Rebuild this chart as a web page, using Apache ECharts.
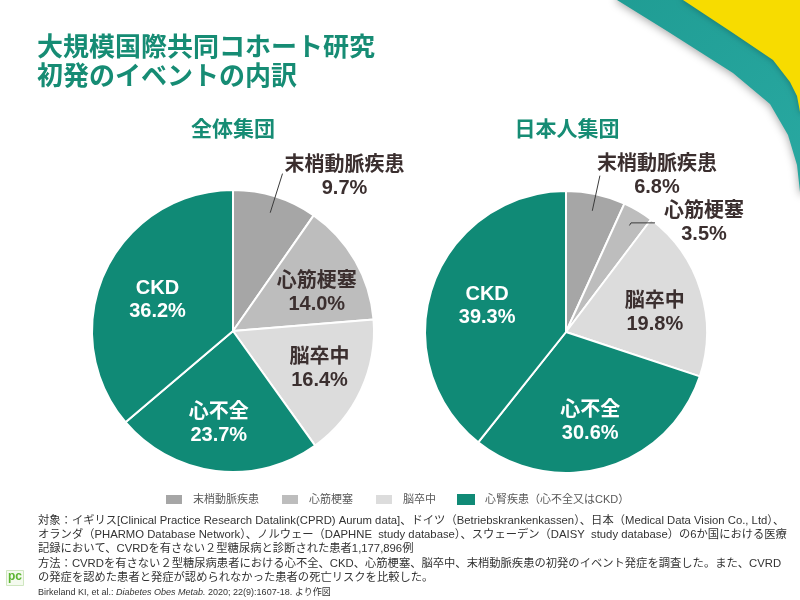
<!DOCTYPE html>
<html>
<head>
<meta charset="utf-8">
<script src="https://cdn.jsdelivr.net/npm/echarts@6/dist/echarts.min.js"></script>
<style>
html,body{margin:0;padding:0;background:#fff;}
#main{width:800px;height:600px;}
</style>
</head>
<body>
<div id="main"></div>
<script>
// ---- data ----
var categories = ['末梢動脈疾患', '心筋梗塞', '脳卒中', '心不全', 'CKD'];
var overallValues = [9.7, 14.0, 16.4, 23.7, 36.2];
var japanValues = [6.8, 3.5, 19.8, 30.6, 39.3];
var legendNames = ['末梢動脈疾患', '心筋梗塞', '脳卒中', '心腎疾患（心不全又はCKD）'];
var titleLines = ['大規模国際共同コホート研究', '初発のイベントの内訳'];
var groupTitles = ['全体集団', '日本人集団'];
var footnoteLines = [
  '対象：イギリス[Clinical Practice Research Datalink(CPRD) Aurum data]、ドイツ（Betriebskrankenkassen）、日本（Medical Data Vision Co., Ltd）、',
  'オランダ（PHARMO Database Network）、ノルウェー（DAPHNE  study database）、スウェーデン（DAISY  study database）の6か国における医療',
  '記録において、CVRDを有さない２型糖尿病と診断された患者1,177,896例',
  '方法：CVRDを有さない２型糖尿病患者における心不全、CKD、心筋梗塞、脳卒中、末梢動脈疾患の初発のイベント発症を調査した。また、CVRD',
  'の発症を認めた患者と発症が認められなかった患者の死亡リスクを比較した。'
];

// ---- styles ----
var TEAL = '#108a76';
var colors = ['#a6a6a6', '#bdbdbd', '#dcdcdc', TEAL, TEAL];
var darkText = '#3b2f2f';
var FONT = '"Liberation Sans", "Noto Sans CJK JP", sans-serif';
var R = 141;

function mainData(vals) {
  return categories.map(function (c, i) {
    return { name: c, value: vals[i], itemStyle: { color: colors[i] } };
  });
}

function labelData(vals, outsideCfg) {
  return categories.map(function (c, i) {
    var o = outsideCfg[i];
    var item = { name: c, value: vals[i] };
    if (o) {
      item.label = { position: 'outside', color: darkText, distanceToLabelLine: o.dist };
      item.labelLine = { show: true, length: o.len, length2: o.len2 };
    } else {
      item.label = { position: 'inside', color: i >= 3 ? '#ffffff' : darkText };
      item.labelLine = { show: false };
    }
    return item;
  });
}

function fmt(p) {
  return '{n|' + p.name + '}\n{v|' + p.value.toFixed(1) + '%}';
}

var labelRich = {
  n: { fontSize: 20, fontWeight: 'bold', fontFamily: FONT, align: 'center', lineHeight: 23 },
  v: { fontSize: 20, fontWeight: 'bold', fontFamily: FONT, align: 'center', lineHeight: 23 }
};

function pieMain(center, vals) {
  return {
    type: 'pie', center: center, radius: R, startAngle: 90, clockwise: true,
    avoidLabelOverlap: false, silent: true,
    itemStyle: { borderColor: '#fff', borderWidth: 2 },
    label: { show: false }, labelLine: { show: false },
    data: mainData(vals)
  };
}

// small fine-tuning shifts (px) of the inside labels, by slice index
function pieLabels(center, vals, outsideCfg, shifts) {
  return {
    type: 'pie', center: center, radius: [54, 124], startAngle: 90, clockwise: true,
    avoidLabelOverlap: false, silent: true, z: 3,
    itemStyle: { color: 'rgba(0,0,0,0)', borderWidth: 0 },
    label: { show: true, formatter: fmt, rich: labelRich },
    labelLine: { lineStyle: { color: '#3b3b3b', width: 1 } },
    labelLayout: function (p) {
      var s = shifts[p.dataIndex];
      return s ? { dx: s[0], dy: s[1], hideOverlap: false } : { hideOverlap: false };
    },
    data: labelData(vals, outsideCfg)
  };
}

var leftCenter = [233, 331];
var rightCenter = [566, 332];

var graphics = [
  { type: 'polygon', silent: true, z: 0,
    shape: { points: [[617, 0], [667, 31], [733, 73], [770, 104], [788, 135], [797, 165], [800, 192], [830, 192], [830, -30], [617, -30]] },
    style: { fill: { type: 'linear', x: 0, y: 0, x2: 1, y2: 1, colorStops: [{ offset: 0, color: '#1f9c93' }, { offset: 1, color: '#29a9a2' }] }, shadowBlur: 8, shadowColor: 'rgba(0,0,0,0.35)', shadowOffsetY: 2 } },
  { type: 'polygon', silent: true, z: 1,
    shape: { points: [[683, 0], [733, 33], [773, 60], [790, 82], [797, 96], [800, 112], [830, 112], [830, -30], [683, -30]] },
    style: { fill: '#f7dc00', shadowBlur: 6, shadowColor: 'rgba(0,0,0,0.25)', shadowOffsetY: 1 } },
  { type: 'text', left: 37, top: 34,
    style: { text: titleLines.join('\n'), fontSize: 26, fontWeight: 'bold', lineHeight: 29, fill: '#168c74', fontFamily: FONT } },
  { type: 'text', x: 233, y: 130,
    style: { text: groupTitles[0], fontSize: 21, fontWeight: 'bold', fill: '#168c74', align: 'center', verticalAlign: 'middle', fontFamily: FONT } },
  { type: 'text', x: 567, y: 130,
    style: { text: groupTitles[1], fontSize: 21, fontWeight: 'bold', fill: '#168c74', align: 'center', verticalAlign: 'middle', fontFamily: FONT } },
  { type: 'text', left: 38, top: 588,
    style: { text: '{a|Birkeland KI, et al.: }{b|Diabetes Obes Metab.}{a| 2020; 22(9):1607-18. より作図}',
      rich: { a: { fontSize: 9, fill: '#333', fontFamily: FONT }, b: { fontSize: 9, fill: '#333', fontStyle: 'italic', fontFamily: FONT } } } },
  { type: 'rect', left: 6, top: 570, shape: { width: 17, height: 15 }, style: { fill: '#f4faef', stroke: '#cfe6c0', lineWidth: 1 } },
  { type: 'text', left: 8, top: 571, style: { text: 'pc', fontSize: 12, fontWeight: 'bold', fill: '#5cb531', fontFamily: FONT } }
];
footnoteLines.forEach(function (t, i) {
  graphics.push({
    type: 'text', left: 38, top: 515.5 + i * 14.1,
    style: { text: t, fontSize: 11.3, fontFamily: FONT, fill: '#333333' }
  });
});

var option = {
  backgroundColor: '#ffffff',
  textStyle: { fontFamily: FONT },
  legend: {
    data: legendNames,
    left: 164, top: 493, padding: 0,
    itemWidth: 18, itemHeight: 11, itemGap: 21,
    icon: 'rect',
    selectedMode: false,
    textStyle: { fontSize: 11, color: '#595959', fontFamily: FONT, padding: [0, 0, 0, 5] }
  },
  graphic: graphics,
  series: [
    pieMain(leftCenter, overallValues),
    pieMain(rightCenter, japanValues),
    pieLabels(leftCenter, overallValues,
      [{ len: 41, len2: 0, dist: 2 }, null, null, null, null],
      [[0, 3], [4, 8], [3, -1], [-3, 2], [8, 8]]),
    pieLabels(rightCenter, japanValues,
      [{ len: 36, len2: 0, dist: -3 }, { len: 3, len2: 24, dist: 9 }, null, null, null],
      [null, null, [1, 8], [-2, 2], [8, 4]]),
    { type: 'pie', center: [400, 300], radius: 0, silent: true,
      label: { show: false }, labelLine: { show: false },
      data: [{ name: legendNames[3], value: 0, itemStyle: { color: TEAL } }] }
  ]
};

var chart = echarts.init(document.getElementById('main'), null, { renderer: 'canvas' });
chart.setOption(option);
</script>
</body>
</html>
